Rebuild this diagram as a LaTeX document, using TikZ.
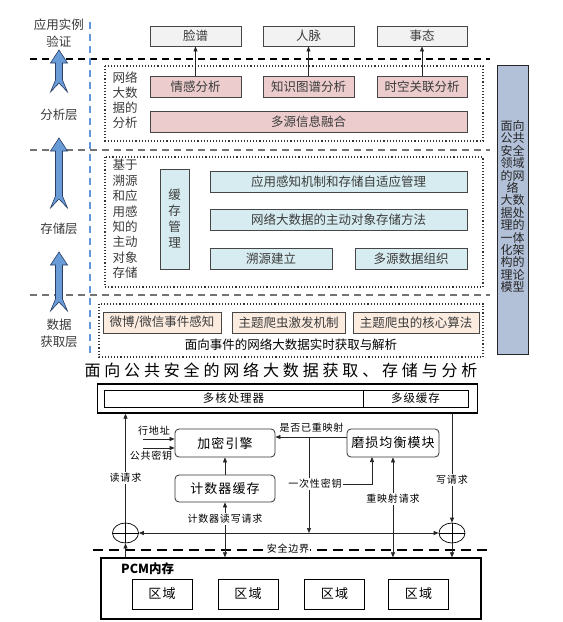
\documentclass[tikz,border=0pt]{standalone}
\usepackage{fontspec}
\setmainfont{Noto Sans CJK SC}
\newfontfamily\spfont[LetterSpace=8]{Noto Sans CJK SC}
\newfontfamily\titlefont[LetterSpace=24]{Noto Sans CJK SC}
\usetikzlibrary{arrows.meta,calc,shapes.geometric}
\newcommand\myfs[2]{\fontsize{#1}{#2}\selectfont}
\definecolor{txtgray}{RGB}{60,60,60}
\definecolor{boxgray}{RGB}{242,242,242}
\definecolor{pinkf}{RGB}{236,204,204}
\definecolor{bluef}{RGB}{214,236,240}
\definecolor{peachf}{RGB}{252,236,224}
\definecolor{sidef}{RGB}{178,192,216}
\definecolor{arrowf}{RGB}{105,155,215}
\definecolor{arrowd}{RGB}{40,60,100}
\definecolor{vdash}{RGB}{100,150,220}
\definecolor{edgegray}{RGB}{70,70,70}
\tikzset{
  tbox/.style={draw=edgegray, line width=0.9pt, inner sep=0pt, text=txtgray, font=\myfs{12.5}{14}},
  graybox/.style={tbox, fill=boxgray},
  pinkbox/.style={tbox, fill=pinkf},
  bluebox/.style={tbox, fill=bluef},
  peachbox/.style={tbox, fill=peachf},
  lbl/.style={text=txtgray, align=center},
  dotbox/.style={draw=black!80, dotted, line width=1.1pt},
  layerline/.style={dash pattern=on 7pt off 5pt, line width=1.2pt},
  conn/.style={draw=black!85, line width=0.7pt},
  tip/.style={-{Triangle[length=5pt,width=4pt]}},
  dtip/.style={{Triangle[length=5pt,width=4pt]}-{Triangle[length=5pt,width=4pt]}},
  rbox/.style={draw=black!80, line width=0.8pt, rounded corners=4pt, inner sep=0pt, font=\spfont\myfs{13}{13}},
  sbox/.style={draw=black, line width=0.9pt, inner sep=0pt, font=\spfont\myfs{11.5}{12}},
  small/.style={font=\spfont\myfs{10}{10}, inner sep=1pt},
  wsmall/.style={small, fill=white},
  xorcirc/.style={draw=black, line width=0.7pt, ellipse, minimum width=26, minimum height=20, inner sep=0pt},
}
\newcommand\bluearrow[3]{% center x, tip y, bottom y
  \filldraw[draw=arrowd, fill=arrowf, line width=0.6pt]
    (#1,#2) -- ++(8.5,13) -- ++(-5,0) -- (#1+3.5,#3-12) -- (#1+8.5,#3)
    -- (#1,#3-9) -- (#1-8.5,#3) -- (#1-3.5,#3-12) -- (#1-3.5,#2+13) -- (#1-8.5,#2+13) -- cycle;}
\begin{document}
\begin{tikzpicture}[x=1pt,y=-1pt]
\useasboundingbox (0,0) rectangle (563,622);
\fill[white] (0,0) rectangle (563,622);

% ---------- upper framework ----------
\draw[layerline, black] (30,59) -- (490,59);
\draw[layerline, black!55] (30,150) -- (490,150);
\draw[layerline, black!55] (30,295) -- (490,295);
\draw[vdash, dash pattern=on 7pt off 5pt, line width=1.6pt] (90,22) -- (90,357);

\node[lbl, font=\myfs{12.5}{17}] (lv) at (59,33) {应用实例\\验证};
\node[lbl, font=\myfs{12.5}{15}] (la) at (59,115) {分析层};
\node[lbl, font=\myfs{12.5}{15}] (ls) at (59,229) {存储层};
\node[lbl, font=\myfs{12.5}{17}] (lg) at (59,333) {数据\\获取层};
\bluearrow{59}{50}{92}
\bluearrow{59}{138}{208}
\bluearrow{59}{252}{311}

% top boxes
\node[graybox, minimum width=91, minimum height=20] (lp) at (195.5,36) {脸谱};
\node[graybox, minimum width=91, minimum height=20] (rm) at (308.5,36) {人脉};
\node[graybox, minimum width=90, minimum height=20] (st) at (422,36) {事态};

% analysis layer
\draw[dotbox] (105,66) rectangle (483,141);
\node[lbl, font=\myfs{12.5}{15}] (an) at (125,100.5) {网络\\大数\\据的\\分析};
\node[pinkbox, minimum width=91, minimum height=21] (qg) at (195.5,86.5) {情感分析};
\node[pinkbox, minimum width=91, minimum height=21] (zs) at (308.5,86.5) {知识图谱分析};
\node[pinkbox, minimum width=90, minimum height=21] (sk) at (422,86.5) {时空关联分析};
\node[pinkbox, minimum width=317, minimum height=21] (dy) at (308.5,121.5) {多源信息融合};
\draw[conn, tip] (qg.north) -- (lp.south);
\draw[conn, tip] (zs.north) -- (rm.south);
\draw[conn, tip] (sk.north) -- (st.south);

% storage layer
\draw[dotbox] (105,157) rectangle (483,287);
\node[lbl, font=\myfs{12.5}{15.4}] (sn) at (125,219) {基于\\溯源\\和应\\用感\\知的\\主动\\对象\\存储};
\node[bluebox, minimum width=29, minimum height=100, align=center, font=\myfs{12.5}{16}] (hc) at (174.5,219) {缓\\存\\管\\理};
\node[bluebox, minimum width=257, minimum height=21] (yy) at (338.5,181.5) {应用感知机制和存储自适应管理};
\node[bluebox, minimum width=257, minimum height=21] (wl) at (338.5,219.5) {网络大数据的主动对象存储方法};
\node[bluebox, minimum width=122, minimum height=21] (sy) at (271,258.5) {溯源建立};
\node[bluebox, minimum width=112, minimum height=21] (zz) at (411,258.5) {多源数据组织};

% acquisition layer
\draw[dotbox] (99,304) rectangle (483,357);
\node[peachbox, minimum width=118, minimum height=21] (wb) at (162,322.5) {微博/微信事件感知};
\node[peachbox, minimum width=113, minimum height=21] (jf) at (288.5,322.5) {主题爬虫激发机制};
\node[peachbox, minimum width=126, minimum height=21] (sf) at (416,322.5) {主题爬虫的核心算法};
\node[font=\myfs{12.5}{14}, text=black] (hq) at (291,345) {面向事件的网络大数据实时获取与解析};

% side bar
\node[draw=black!85, fill=sidef, line width=0.9pt, minimum width=31, minimum height=289, inner sep=0pt] (sb) at (512.5,209.5) {};
\node[align=center, font=\myfs{12}{12.4}, text=black!85] (sbt) at (512.5,206.5)
  {面向\\公共\\安全\\领域\\的网\\络\\大数\\据处\\理的\\一体\\化架\\构的\\理论\\模型};

% title
\node[font=\titlefont\myfs{16}{16}, text=black] (title) at (281,370) {面向公共安全的网络大数据获取、存储与分析};

% ---------- lower architecture ----------
\node[draw=black, line width=1.3pt, minimum width=380, minimum height=29, inner sep=0pt] (proc) at (287.5,398.5) {};
\node[sbox, minimum width=259, minimum height=17] (cpu) at (233.5,398.5) {多核处理器};
\node[sbox, minimum width=105, minimum height=17] (cache) at (415.5,398.5) {多级缓存};

\node[rbox, minimum width=100, minimum height=28] (enc) at (225,443) {加密引擎};
\node[rbox, minimum width=100, minimum height=27] (cnt) at (225,488.5) {计数器缓存};
\node[rbox, minimum width=92, minimum height=28] (wear) at (393,443) {磨损均衡模块};

\node[xorcirc] (cl) at (125.5,533) {};
\node[xorcirc] (cr) at (452,533) {};
\draw[black, line width=0.7pt] (cl.north) -- (cl.south) (cl.west) -- (cl.east);
\draw[black, line width=0.7pt] (cr.north) -- (cr.south) (cr.west) -- (cr.east);

\node[draw=black, line width=1.3pt, minimum width=380, minimum height=61, inner sep=0pt] (pcm) at (291,588.5) {};
\node[font=\myfs{12.5}{12.5}\bfseries, anchor=west, inner sep=0pt] (pcml) at (121,569) {PCM内存};
\foreach \xx/\nm in {162/r1, 248/r2, 334.5/r3, 418.5/r4}
  \node[draw=black, line width=0.8pt, minimum width=60, minimum height=30, inner sep=0pt, font=\spfont\myfs{13}{13}] (\nm) at (\xx,594) {区域};

% boundary
\draw[black, line width=1.1pt, dash pattern=on 10pt off 6pt] (93,550) -- (490,550);
\node[small, fill=white] (bd) at (288,549) {安全边界};

% connectors
\coordinate (ra) at (143,439);
\coordinate (pk) at (143,448);
\draw[conn, tip] (ra) -- (ra -| enc.west);
\draw[conn, tip] (pk) -- (pk -| enc.west);
\node[small] (ral) at (154,431) {行地址};
\node[small] (pkl) at (151,456) {公共密钥};

\draw[conn, tip] (cl.north) -- (cl.north |- proc.south);
\draw[conn, tip] (cl.south |- pcm.north) -- (cl.south);
\node[wsmall] (rdl) at (125.5,478) {读请求};

\draw[conn, tip] (cr.north |- proc.south) -- (cr.north);
\draw[conn, tip] (cr.south) -- (cr.south |- pcm.north);
\node[wsmall] (wrl) at (452,480) {写请求};

\draw[conn, dtip] (cl.east) -- (cr.west);

\coordinate (rm1) at (wear.west |- 0,437);
\draw[conn, tip] (rm1) -- (rm1 -| enc.east);
\node[small] (rml) at (311.5,428) {是否已重映射};

\coordinate (ot) at (309,437);
\draw[conn, tip] (ot) -- (ot |- cl.east);
\coordinate (otc) at (309,484);
\draw[conn, tip] (otc) -- (372,484) -- (372,457);
\node[wsmall] (otl) at (315,484) {一次性密钥};

\draw[conn, tip] (cnt.north) -- (enc.south);
\draw[conn, dtip] (cnt.south) -- (cnt.south |- pcm.north);
\node[wsmall] (cwl) at (225,519) {计数器读写请求};

\draw[conn, dtip] (wear.south) -- (wear.south |- pcm.north);
\node[wsmall] (rql) at (393,499) {重映射请求};
\end{tikzpicture}
\end{document}
